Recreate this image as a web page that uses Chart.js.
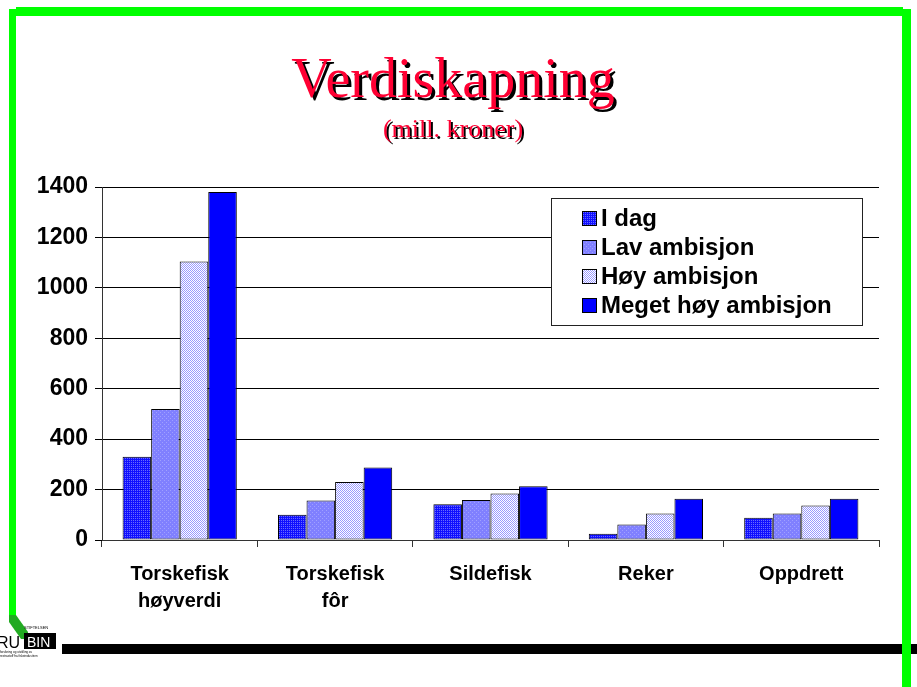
<!DOCTYPE html>
<html>
<head>
<meta charset="utf-8">
<script src="https://cdn.jsdelivr.net/npm/chart.js@4/dist/chart.umd.min.js"></script>
<style>
  html, body { margin: 0; padding: 0; background: #fff; }
  #wrap { position: relative; width: 917px; height: 687px; overflow: hidden; background: #fff; }
  #c { position: absolute; left: 0; top: 0; }
  .deco { position: absolute; }
</style>
</head>
<body>
<div id="wrap">
  <canvas id="c" width="917" height="687"></canvas>
  <!-- green frame -->
  <div class="deco" style="left:16px;top:7px;width:887px;height:9px;background:#00ff00;"></div>
  <div class="deco" style="left:9px;top:9px;width:7px;height:606px;background:#00ff00;"></div>
  <div class="deco" style="left:902px;top:9px;width:9px;height:678px;background:#00ff00;"></div>
  <!-- black rule -->
  <div class="deco" style="left:62px;top:644px;width:840px;height:10px;background:#000;"></div>
  <div class="deco" style="left:911px;top:644px;width:6px;height:10px;background:#000;"></div>
  <!-- logo -->
  <svg class="deco" style="left:0;top:612px;" width="64" height="50">
    <polygon points="9,3 16,3 28,20 28,27 21,27 9,10" fill="#22aa22"/>
    <text x="24" y="17" font-size="4" font-family="Liberation Sans" fill="#000">STIFTELSEN</text>
    <text x="-3" y="36" font-size="16" font-family="Liberation Sans" fill="#000">RU</text>
    <rect x="24" y="21" width="32" height="16" fill="#000"/>
    <text x="27" y="35" font-size="14" font-family="Liberation Sans" fill="#fff">BIN</text>
    <text x="0" y="41" font-size="3" font-family="Liberation Sans" fill="#000">forskning og utvikling av</text>
    <text x="0" y="45" font-size="3" font-family="Liberation Sans" fill="#000">restråstoff fra fiskeindustrien</text>
  </svg>
</div>
<script>
// ---- data ----
const categories = [['Torskefisk', 'høyverdi'], ['Torskefisk', 'fôr'], 'Sildefisk', 'Reker', 'Oppdrett'];
const seriesNames = ['I dag', 'Lav ambisjon', 'Høy ambisjon', 'Meget høy ambisjon'];
const iDag = [330, 100, 142, 25, 88];
const lavAmbisjon = [520, 157, 159, 61, 105];
const hoyAmbisjon = [1105, 230, 184, 105, 137];
const megetHoyAmbisjon = [1380, 288, 213, 164, 164];
const yTicks = [0, 200, 400, 600, 800, 1000, 1200, 1400];
const titleText = 'Verdiskapning';
const subtitleText = '(mill. kroner)';

// ---- fill patterns ----
function makePattern(base, dot, cells) {
  const p = document.createElement('canvas');
  p.width = 4; p.height = 4;
  const g = p.getContext('2d');
  g.fillStyle = base; g.fillRect(0, 0, 4, 4);
  g.fillStyle = dot;
  cells.forEach(([x, y]) => g.fillRect(x, y, 1, 1));
  return g.createPattern(p, 'repeat');
}
const ctx = document.getElementById('c').getContext('2d');
const fills = [
  makePattern('#1010ff', '#6a6aff', [[1,0],[3,0],[1,2],[3,2]]),
  makePattern('#8080ff', '#a0a0ff', [[0,0],[2,2]]),
  makePattern('#ffffff', '#9a9aff', [[0,0],[2,0],[1,1],[3,1],[0,2],[2,2],[1,3],[3,3]]),
  '#0000ff'
];
const seriesData = [iDag, lavAmbisjon, hoyAmbisjon, megetHoyAmbisjon];

const FONT = '"Liberation Sans", Arial, sans-serif';

const titlePlugin = {
  id: 'slideTitle',
  afterDraw(chart) {
    const c = chart.ctx;
    c.save();
    c.textAlign = 'center';
    c.textBaseline = 'alphabetic';
    const cx = 453;
    c.font = '56px "Liberation Serif", "Times New Roman", serif';
    c.fillStyle = '#000';
    c.fillText(titleText, cx + 3, 97 + 3);
    c.fillStyle = '#ff0033';
    c.fillText(titleText, cx, 97);
    c.font = '26px "Liberation Serif", "Times New Roman", serif';
    c.fillStyle = '#000';
    c.fillText(subtitleText, cx + 2, 137 + 2);
    c.fillStyle = '#ff0033';
    c.fillText(subtitleText, cx, 137);
    c.restore();
  }
};

const legendPlugin = {
  id: 'boxLegend',
  afterDraw(chart) {
    const c = chart.ctx;
    const a = chart.chartArea;
    const left = a.right - 328, top = a.top + 11, w = 311, h = 127;
    c.save();
    c.fillStyle = '#fff';
    c.fillRect(left, top, w, h);
    c.strokeStyle = '#222';
    c.lineWidth = 1;
    c.strokeRect(left + 0.5, top + 0.5, w, h);
    c.font = 'bold 24px ' + FONT;
    c.textBaseline = 'middle';
    c.textAlign = 'left';
    chart.data.datasets.forEach((ds, i) => {
      const y = top + 20 + i * 29;
      c.fillStyle = ds.backgroundColor;
      c.fillRect(left + 31, y - 7, 15, 15);
      c.strokeStyle = '#000';
      c.strokeRect(left + 31.5, y - 6.5, 14, 14);
      c.fillStyle = '#000';
      c.fillText(ds.label, left + 50, y + 1);
    });
    c.restore();
  }
};

new Chart(ctx, {
  type: 'bar',
  data: {
    labels: categories,
    datasets: seriesNames.map((name, i) => ({
      label: name,
      data: seriesData[i],
      backgroundColor: fills[i],
      borderColor: '#000',
      borderWidth: 1,
      borderSkipped: false,
      categoryPercentage: 0.735,
      barPercentage: 1.0
    }))
  },
  options: {
    responsive: false,
    animation: false,
    devicePixelRatio: 1,
    layout: { padding: { left: 0, right: 38, top: 187, bottom: 47 } },
    plugins: { legend: { display: false }, title: { display: false }, tooltip: { enabled: false } },
    scales: {
      x: {
        type: 'category',
        offset: true,
        grid: { offset: true, drawOnChartArea: false, drawTicks: true, tickLength: 7, color: '#333', lineWidth: 1 },
        border: { display: true, color: '#333', width: 1 },
        ticks: { color: '#000', font: { family: FONT, size: 20, weight: 'bold', lineHeight: 1.35 }, padding: 14, maxRotation: 0, autoSkip: false },
        afterFit(scale) { scale.height = 100; }
      },
      y: {
        min: yTicks[0],
        max: yTicks[yTicks.length - 1],
        afterBuildTicks(scale) { scale.ticks = yTicks.map(v => ({ value: v })); },
        grid: { color: '#000', lineWidth: 1, tickLength: 7, drawTicks: true },
        border: { display: true, color: '#333', width: 1 },
        ticks: { color: '#000', font: { family: FONT, size: 23, weight: 'bold' }, padding: 7, callback: (v) => String(v) },
        afterFit(scale) { scale.width = 102; }
      }
    }
  },
  plugins: [titlePlugin, legendPlugin]
});
</script>
</body>
</html>
